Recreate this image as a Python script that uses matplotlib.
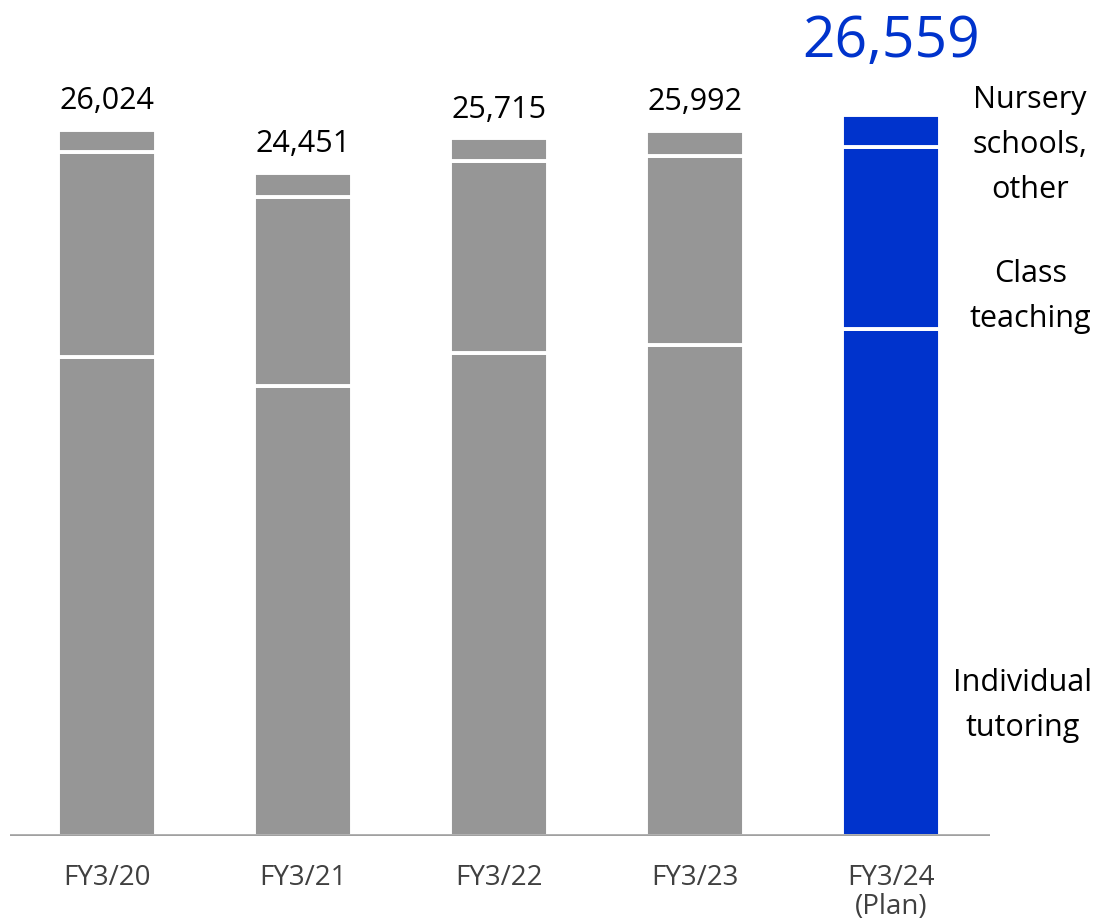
import numpy as np
import matplotlib
matplotlib.use("Agg")
import matplotlib.pyplot as plt

plt.rcParams['font.family'] = ['Open Sans', 'DejaVu Sans']

# data
years = ['FY3/20', 'FY3/21', 'FY3/22', 'FY3/23', 'FY3/24\n(Plan)']
individual = [17656, 16599, 17804, 18099, 18689]
class_teaching = [7557, 6967, 7077, 6967, 6709]
nursery = [811, 885, 834, 926, 1161]
totals = [26024, 24451, 25715, 25992, 26559]

GRAY = '#969696'
BLUE = '#0033CC'
colors = [GRAY, GRAY, GRAY, GRAY, BLUE]

fig = plt.figure(figsize=(11.01, 9.21), dpi=100)
ax = fig.add_axes([10 / 1101, 85 / 921, 980 / 1101, 836 / 921])

x = np.arange(len(years))
w = 0.50
bottom = np.zeros(len(years))
for seg in (individual, class_teaching, nursery):
    ax.bar(x, seg, w, bottom=bottom, color=colors, edgecolor='white', linewidth=2.8, zorder=2)
    bottom += np.array(seg)

# total labels
for i, t in enumerate(totals):
    if i == len(totals) - 1:
        ax.annotate(f'{t:,}', (x[i], t), xytext=(0, 42), textcoords='offset points',
                    ha='center', va='baseline', fontsize=41, color=BLUE)
    else:
        ax.annotate(f'{t:,}', (x[i], t), xytext=(0, 15), textcoords='offset points',
                    ha='center', va='baseline', fontsize=22, color='black')

# segment labels on the right
lab = dict(ha='center', va='center', fontsize=22, linespacing=1.65, clip_on=False)
ax.text(4.71, 25470, 'Nursery\nschools,\nother', **lab)
ax.text(4.71, 19870, 'Class\nteaching', **lab)
ax.text(4.67, 4800, 'Individual\ntutoring', **lab)

ax.axhline(0, color='#A0A0A0', linewidth=2.6, zorder=3)
ax.set_xlim(-0.495, 4.505)
ax.set_ylim(0, 836 * 26024 / 706)
ax.set_xticks(x)
ax.set_xticklabels(years, fontsize=20, color='#404040', linespacing=1.05)
ax.tick_params(axis='x', length=0, pad=20)
ax.set_yticks([])
for s in ax.spines.values():
    s.set_visible(False)

fig.savefig('out.png', dpi=100)
